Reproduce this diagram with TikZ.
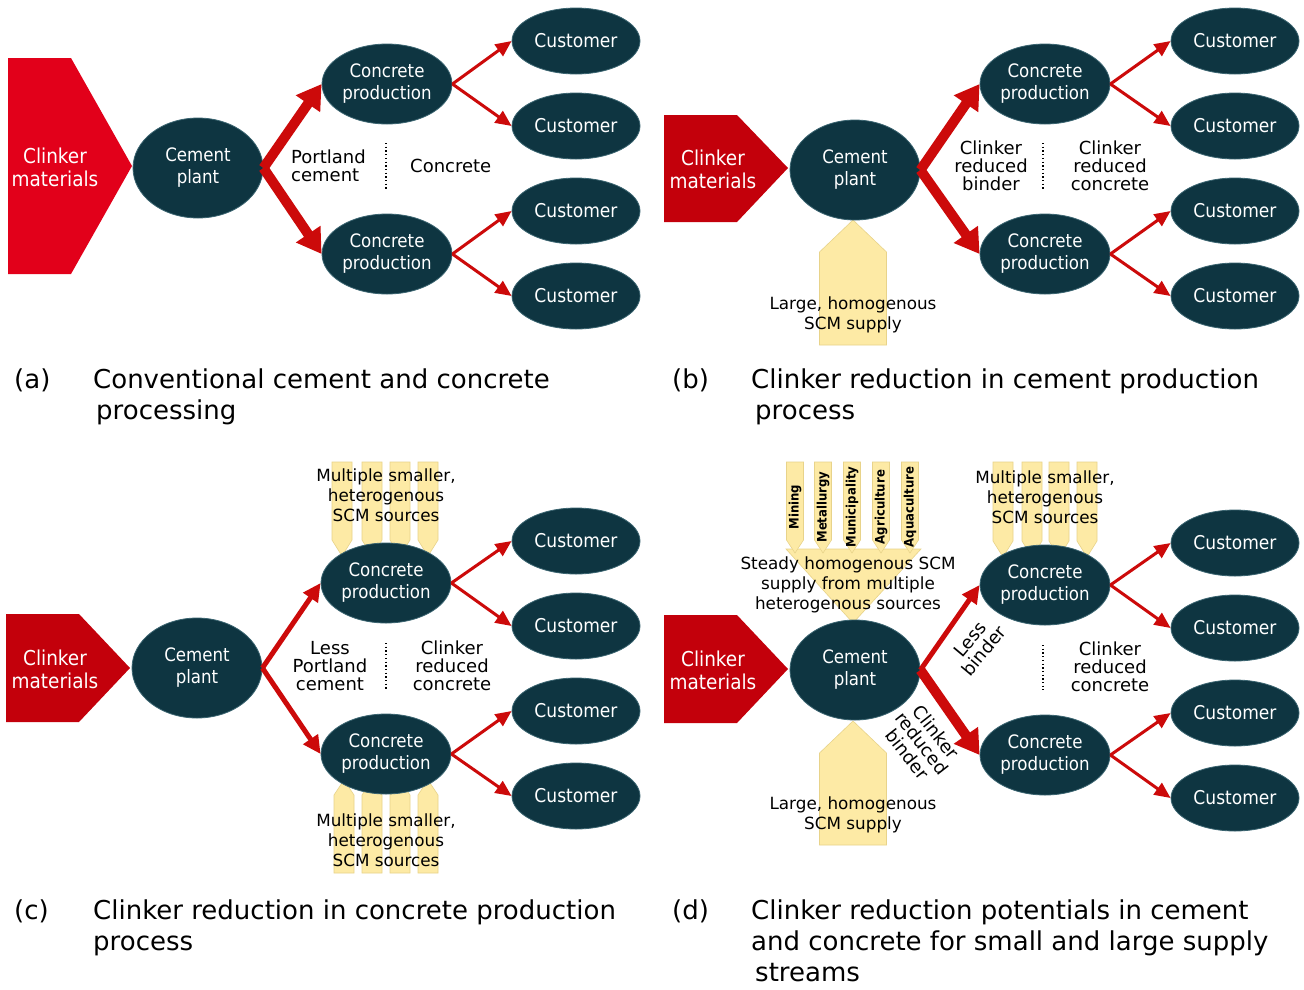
\documentclass[tikz,border=0pt]{standalone}
\usepackage{fontspec}
\setmainfont{DejaVu Sans}
\newfontfamily\tah{DejaVu Sans Condensed}
\usetikzlibrary{shapes.geometric,arrows.meta}
\definecolor{tealdk}{HTML}{0E3541}
\definecolor{tealedge}{HTML}{3A6470}
\definecolor{arrred}{HTML}{CC0A0A}
\definecolor{pentred}{HTML}{E2001A}
\definecolor{pentdk}{HTML}{C3000B}
\definecolor{yel}{HTML}{FDEAA5}
\definecolor{yeledge}{HTML}{E8D38A}
\newcommand{\yarrow}[5]{%
  \path[yarr] ({#1-#2},#3) -- ({#1+#2},#3) -- ({#1+#2},#4) -- (#1,#5) -- ({#1-#2},#4) -- cycle;}
\begin{document}
\begin{tikzpicture}[x=1pt,y=-1pt,
  ell/.style={ellipse, fill=tealdk, draw=tealedge, line width=0.8pt, text=white, align=center, inner sep=0pt, font=\tah\fontsize{18.5}{22}\selectfont},
  cust/.style={ell, minimum width=128pt, minimum height=66pt, font=\tah\fontsize{19}{22}\selectfont},
  cpn/.style={ell, minimum width=130pt, minimum height=80pt},
  plant/.style={ell, minimum width=130pt, minimum height=100pt},
  lbl/.style={align=center, font=\fontsize{18}{18}\selectfont, inner sep=0pt},
  slbl/.style={align=center, font=\fontsize{16.8}{20}\selectfont, inner sep=0pt},
  captxt/.style={anchor=base west, font=\fontsize{26}{30}\selectfont, inner sep=0pt},
  bigarr/.style={draw=arrred, line width=10pt, -{Triangle[width=28pt,length=24pt]}},
  midarr/.style={draw=arrred, line width=5pt, -{Triangle[width=17pt,length=18pt]}},
  thinarr/.style={draw=arrred, line width=3pt, -{Triangle[width=14pt,length=16pt]}},
  dots/.style={line width=1.3pt, dash pattern=on 1.3pt off 2.4pt},
  yarr/.style={fill=yel, draw=yeledge, line width=0.6pt},
  pentA/.style={fill=pentred},
  pentB/.style={fill=pentdk},
  cltxt/.style={text=white, align=center, inner sep=0pt, font=\tah\fontsize{20.5}{23}\selectfont},
  vtxt/.style={rotate=90, inner sep=0pt, font=\tah\bfseries\fontsize{13}{13}\selectfont},
  rtxt/.style={align=center, inner sep=0pt, font=\fontsize{18}{18}\selectfont}
]
\useasboundingbox[fill=white] (0,0) rectangle (1304,989);

% ================= (a) =================
\path[pentA] (8,58) -- (71,58) -- (132,166) -- (71,274) -- (8,274) -- cycle;
\node[cltxt] (a-clk) at (55,167) {Clinker\\materials};
\node[plant] (a-pl) at (198,168) {Cement\\plant};
\node[cpn] (a-c1) at (387,84) {Concrete\\production};
\node[cpn] (a-c2) at (387,254) {Concrete\\production};
\node[cust] (a-u1) at (576,41) {Customer};
\node[cust] (a-u2) at (576,126) {Customer};
\node[cust] (a-u3) at (576,211) {Customer};
\node[cust] (a-u4) at (576,296) {Customer};
\draw[bigarr] (a-pl.east) -- (a-c1.west);
\draw[bigarr] (a-pl.east) -- (a-c2.west);
\draw[thinarr] (a-c1.east) -- (a-u1.west);
\draw[thinarr] (a-c1.east) -- (a-u2.west);
\draw[thinarr] (a-c2.east) -- (a-u3.west);
\draw[thinarr] (a-c2.east) -- (a-u4.west);
\node[lbl, align=left, anchor=west] (a-l1) at (291,166) {Portland\\cement};
\draw[dots] (386,143) -- (386,190);
\node[lbl, anchor=west] (a-l2) at (410,166) {Concrete};
\node[captxt] (a-k) at (14,388) {(a)};
\node[captxt] (a-t1) at (93,388) {Conventional cement and concrete};
\node[captxt] (a-t2) at (96,419) {processing};

% ================= (b) =================
\yarrow{853}{33.5}{345}{252}{220}
\path[pentB] (664,115) -- (737,115) -- (788,168) -- (737,222) -- (664,222) -- cycle;
\node[cltxt] (b-clk) at (713,169) {Clinker\\materials};
\node[plant] (b-pl) at (855,170) {Cement\\plant};
\node[cpn] (b-c1) at (1045,84) {Concrete\\production};
\node[cpn] (b-c2) at (1045,254) {Concrete\\production};
\node[cust] (b-u1) at (1235,41) {Customer};
\node[cust] (b-u2) at (1235,126) {Customer};
\node[cust] (b-u3) at (1235,211) {Customer};
\node[cust] (b-u4) at (1235,296) {Customer};
\draw[bigarr] (b-pl.east) -- (b-c1.west);
\draw[bigarr] (b-pl.east) -- (b-c2.west);
\draw[thinarr] (b-c1.east) -- (b-u1.west);
\draw[thinarr] (b-c1.east) -- (b-u2.west);
\draw[thinarr] (b-c2.east) -- (b-u3.west);
\draw[thinarr] (b-c2.east) -- (b-u4.west);
\node[lbl] (b-l1) at (991,166) {Clinker\\reduced\\binder};
\draw[dots] (1043,143) -- (1043,190);
\node[lbl] (b-l2) at (1110,166) {Clinker\\reduced\\concrete};
\node[slbl] (b-l3) at (853,315) {Large, homogenous\\SCM supply};
\node[captxt] (b-k) at (672,388) {(b)};
\node[captxt] (b-t1) at (751,388) {Clinker reduction in cement production};
\node[captxt] (b-t2) at (755,419) {process};

% ================= (c) =================
\foreach \cx in {342,372,400,428} {\yarrow{\cx}{10}{462}{540}{556}}
\foreach \cx in {344,372,400,428} {\yarrow{\cx}{10}{873}{795}{780}}
\path[pentB] (6,614) -- (79,614) -- (130,668) -- (79,722) -- (6,722) -- cycle;
\node[cltxt] (c-clk) at (55,669) {Clinker\\materials};
\node[plant] (c-pl) at (197,668) {Cement\\plant};
\node[cpn] (c-c1) at (386,583) {Concrete\\production};
\node[cpn] (c-c2) at (386,754) {Concrete\\production};
\node[cust] (c-u1) at (576,541) {Customer};
\node[cust] (c-u2) at (576,626) {Customer};
\node[cust] (c-u3) at (576,711) {Customer};
\node[cust] (c-u4) at (576,796) {Customer};
\draw[midarr] (c-pl.east) -- (c-c1.west);
\draw[midarr] (c-pl.east) -- (c-c2.west);
\draw[thinarr] (c-c1.east) -- (c-u1.west);
\draw[thinarr] (c-c1.east) -- (c-u2.west);
\draw[thinarr] (c-c2.east) -- (c-u3.west);
\draw[thinarr] (c-c2.east) -- (c-u4.west);
\node[slbl] (c-s1) at (386,495) {Multiple smaller,\\heterogenous\\SCM sources};
\node[slbl] (c-s2) at (386,840) {Multiple smaller,\\heterogenous\\SCM sources};
\node[lbl] (c-l1) at (330,666) {Less\\Portland\\cement};
\draw[dots] (386,643) -- (386,690);
\node[lbl] (c-l2) at (452,666) {Clinker\\reduced\\concrete};
\node[captxt] (c-k) at (14,919) {(c)};
\node[captxt] (c-t1) at (93,919) {Clinker reduction in concrete production};
\node[captxt] (c-t2) at (93,950) {process};

% ================= (d) =================
\yarrow{853}{33.5}{845}{753}{721}
\path[yarr] (786,549) -- (921,549) -- (853,623) -- cycle;
\foreach \cx in {795,823,852,881,910} {\yarrow{\cx}{8.5}{462}{540}{553}}
\foreach \cx in {1003,1032,1059,1087} {\yarrow{\cx}{10}{462}{541}{557}}
\node[vtxt] (d-v1) at (795,507) {Mining};
\node[vtxt] (d-v2) at (823,507) {Metallurgy};
\node[vtxt] (d-v3) at (852,507) {Municipality};
\node[vtxt] (d-v4) at (881,507) {Agriculture};
\node[vtxt] (d-v5) at (910,507) {Aquaculture};
\path[pentB] (664,615) -- (737,615) -- (788,669) -- (737,723) -- (664,723) -- cycle;
\node[cltxt] (d-clk) at (713,670) {Clinker\\materials};
\node[plant] (d-pl) at (855,670) {Cement\\plant};
\node[cpn] (d-c1) at (1045,585) {Concrete\\production};
\node[cpn] (d-c2) at (1045,755) {Concrete\\production};
\node[cust] (d-u1) at (1235,543) {Customer};
\node[cust] (d-u2) at (1235,628) {Customer};
\node[cust] (d-u3) at (1235,713) {Customer};
\node[cust] (d-u4) at (1235,798) {Customer};
\draw[midarr] (d-pl.east) -- (d-c1.west);
\draw[bigarr] (d-pl.east) -- (d-c2.west);
\draw[thinarr] (d-c1.east) -- (d-u1.west);
\draw[thinarr] (d-c1.east) -- (d-u2.west);
\draw[thinarr] (d-c2.east) -- (d-u3.west);
\draw[thinarr] (d-c2.east) -- (d-u4.west);
\node[slbl] (d-s1) at (848,585) {Steady homogenous SCM\\supply from multiple\\heterogenous sources};
\node[slbl] (d-s2) at (1045,497) {Multiple smaller,\\heterogenous\\SCM sources};
\node[slbl] (d-l3) at (853,815) {Large, homogenous\\SCM supply};
\node[rtxt, rotate=50] (d-r1) at (977,645) {Less\\binder};
\node[rtxt, rotate=-52] (d-r2) at (922,743) {Clinker\\reduced\\binder};
\draw[dots] (1043,645) -- (1043,690);
\node[lbl] (d-l2) at (1110,667) {Clinker\\reduced\\concrete};
\node[captxt] (d-k) at (672,919) {(d)};
\node[captxt] (d-t1) at (751,919) {Clinker reduction potentials in cement};
\node[captxt] (d-t2) at (751,950) {and concrete for small and large supply};
\node[captxt] (d-t3) at (755,981) {streams};
\end{tikzpicture}
\end{document}
